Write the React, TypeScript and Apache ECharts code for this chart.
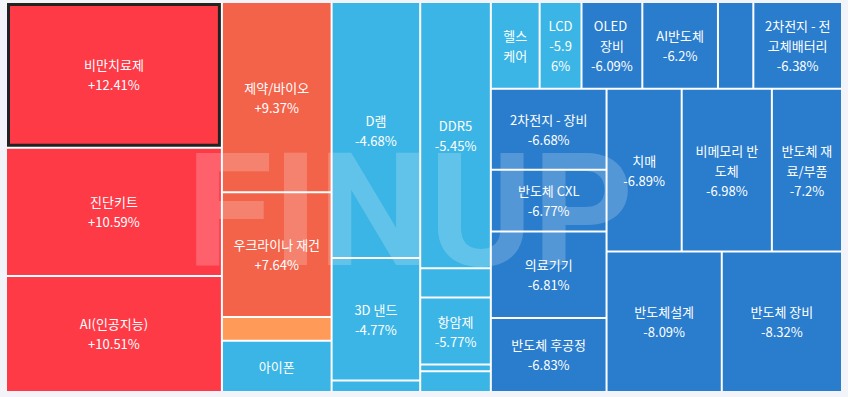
import React, { useEffect, useRef } from "react";
import * as echarts from "echarts";

// Themes (sectors) in display order, their block size (market weight) and daily change (%)
const names: string[] = [
  "비만치료제", "진단키트", "AI(인공지능)",
  "제약/바이오", "우크라이나 재건", "", "아이폰",
  "D램", "3D 낸드", "",
  "DDR5", "", "항암제", "", "",
  "헬스케어", "LCD", "OLED 장비", "AI반도체", "", "2차전지 - 전고체배터리",
  "2차전지 - 장비", "반도체 CXL", "의료기기", "반도체 후공정",
  "치매", "비메모리 반도체", "반도체 재료/부품",
  "반도체설계", "반도체 장비",
];

const sizes: number[] = [
  31248, 27476, 24890,
  20728, 13600, 2573, 5585,
  22528, 10762, 1020,
  18683, 2045, 4702, 465, 1459,
  4198, 3603, 5232, 6508, 3043, 7629,
  9332, 7069, 9945, 8512,
  12158, 14589, 11347,
  16066, 16764,
];

const changes: number[] = [
  12.41, 10.59, 10.51,
  9.37, 7.64, 3.1, -4.35,
  -4.68, -4.77, -5.1,
  -5.45, -5.6, -5.77, -5.8, -5.85,
  -5.9, -5.96, -6.09, -6.2, -6.3, -6.38,
  -6.68, -6.77, -6.81, -6.83,
  -6.89, -6.98, -7.2,
  -8.09, -8.32,
];

// labels that show only the theme name (the change line does not fit)
const nameOnly: string[] = ["헬스케어", "아이폰"];
const selectedName = "비만치료제";
const narrowNames: string[] = ["LCD"];

function colorFor(c: number): string {
  if (c >= 10) return "#fe3a47";
  if (c >= 5) return "#f3634a";
  if (c > 0) return "#ff9a58";
  if (c > -6) return "#3bb5e5";
  return "#2a7dcd";
}

function fmtChange(c: number): string {
  return (c > 0 ? "+" : "") + c + "%";
}

export default function App() {
  const ref = useRef<HTMLDivElement>(null);

  useEffect(() => {
    if (!ref.current) return;
    const chart = echarts.init(ref.current, undefined, { renderer: "svg" });

    const data = names.map((n, i) => {
      const item: any = {
        name: n,
        value: sizes[i],
        change: changes[i],
        itemStyle: { color: colorFor(changes[i]) },
      };
      if (!n) item.label = { show: false };
      if (narrowNames.indexOf(n) >= 0) item.label = { padding: [5, 6] };
      if (n === selectedName) {
        item.itemStyle = { color: colorFor(changes[i]), borderColor: "#222222", borderWidth: 3 };
      }
      return item;
    });

    chart.setOption({
      animation: false,
      backgroundColor: "#f2f4fa",
      graphic: [
        {
          type: "text",
          z: 100,
          silent: true,
          x: 410,
          y: 211,
          style: {
            text: "FINUP",
            fill: "rgba(255,255,255,0.2)",
            fontFamily: "Roboto, sans-serif",
            fontWeight: "bold",
            fontSize: 157,
            align: "center",
            verticalAlign: "middle",
          },
        },
      ],
      series: [
        {
          type: "treemap",
          left: 7,
          top: 3,
          width: 834,
          height: 388,
          sort: false,
          roam: false,
          nodeClick: false,
          silent: true,
          breadcrumb: { show: false },
          visibleMin: 0,
          label: {
            show: true,
            position: "inside",
            color: "#ffffff",
            fontSize: 13,
            lineHeight: 20,
            fontFamily: '"Noto Sans CJK KR", "Noto Sans", sans-serif',
            overflow: "break",
            padding: 5,
            formatter: (p: any) => {
              const d = p.data || {};
              if (nameOnly.indexOf(p.name) >= 0) return p.name;
              return p.name + "\n" + fmtChange(d.change);
            },
          },
          itemStyle: { borderWidth: 0, borderColor: "#ffffff" },
          levels: [
            { itemStyle: { borderWidth: 0, gapWidth: 2, borderColor: "#ffffff" } },
          ],
          data,
        },
      ],
    });

    return () => chart.dispose();
  }, []);

  return (
    <div
      ref={ref}
      style={{ position: "fixed", left: 0, top: 0, width: 848, height: 397 }}
    />
  );
}
